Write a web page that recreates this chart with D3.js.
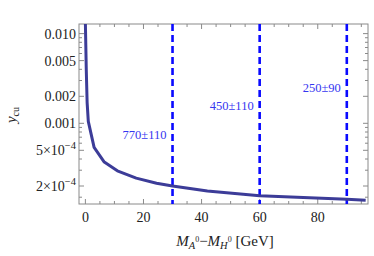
<!DOCTYPE html>
<html>
<head>
<meta charset="utf-8">
<script src="https://cdn.jsdelivr.net/npm/d3@7"></script>
<style>
  body { margin: 0; background: #fff; }
  text { font-family: "Liberation Serif", "DejaVu Serif", serif; }
</style>
</head>
<body>
<div id="chart"></div>
<script>
// curve: y_cu versus mass splitting
const massSplit = [0, 0.3, 0.6, 1, 3, 6.5, 11, 17.5, 24.5, 30, 42, 60, 90, 96.5];
const yCu = [0.013, 0.004, 0.0017, 0.00105, 0.00054, 0.00037, 0.000295, 0.000245, 0.000215, 0.0002, 0.000176, 0.000156, 0.000142, 0.000139];

// vertical dashed markers and their labels
const markerX = [30, 60, 90];
const markerLabels = ["770±110", "450±110", "250±90"];
const markerLabelY = [0.00075, 0.0016, 0.0025];

const xTicks = [0, 20, 40, 60, 80];
const yMajor = [0.01, 0.005, 0.002, 0.001, 0.0005, 0.0002];
const yMinor = [0.009, 0.008, 0.007, 0.006, 0.004, 0.003, 0.0009, 0.0008, 0.0007, 0.0006, 0.0004, 0.0003, 0.00015];

const W = 374, H = 256;
const margin = { top: 24, right: 6, bottom: 52, left: 79 };
const iw = W - margin.left - margin.right;
const ih = H - margin.top - margin.bottom;

const svg = d3.select("#chart").append("svg")
    .attr("width", W)
    .attr("height", H);

const g = svg.append("g")
    .attr("transform", `translate(${margin.left},${margin.top})`);

const x = d3.scaleLinear().domain([-2.2, 97.3]).range([0, iw]);
const y = d3.scaleLog().domain([0.000126, 0.0128]).range([ih, 0]);

g.append("clipPath").attr("id", "clip")
    .append("rect").attr("width", iw).attr("height", ih);

const frameColor = "#8a8a8a";

// ticks, pointing inward on all sides
const xMinor = d3.range(0, 96, 5).filter(d => d % 20 !== 0);
function hTicks(vals, len) {
    vals.forEach(v => {
        g.append("line").attr("x1", x(v)).attr("x2", x(v)).attr("y1", ih).attr("y2", ih - len)
            .attr("stroke", frameColor).attr("stroke-width", 1);
        g.append("line").attr("x1", x(v)).attr("x2", x(v)).attr("y1", 0).attr("y2", len)
            .attr("stroke", frameColor).attr("stroke-width", 1);
    });
}
function vTicks(vals, len) {
    vals.forEach(v => {
        g.append("line").attr("y1", y(v)).attr("y2", y(v)).attr("x1", 0).attr("x2", len)
            .attr("stroke", frameColor).attr("stroke-width", 1);
        g.append("line").attr("y1", y(v)).attr("y2", y(v)).attr("x1", iw).attr("x2", iw - len)
            .attr("stroke", frameColor).attr("stroke-width", 1);
    });
}
hTicks(xTicks, 5);
hTicks(xMinor, 3);
vTicks(yMajor, 5);
vTicks(yMinor, 3);

// frame
g.append("rect")
    .attr("width", iw).attr("height", ih)
    .attr("fill", "none")
    .attr("stroke", frameColor)
    .attr("stroke-width", 1);

// x tick labels
g.selectAll(".xl").data(xTicks).enter().append("text")
    .attr("x", d => x(d))
    .attr("y", ih + 18)
    .attr("text-anchor", "middle")
    .attr("font-size", 14)
    .attr("fill", "#222")
    .text(d => d);

// y tick labels
function yLabel(v, t) {
    const ypos = y(v) + 5;
    if (v >= 0.001) {
        t.attr("x", -3).attr("y", ypos).text(d3.format(".3f")(v));
    } else {
        const exp = Math.floor(Math.log10(v) + 1e-9);
        const mant = Math.round(v / Math.pow(10, exp));
        t.attr("x", -3).attr("y", ypos);
        t.append("tspan").text(mant + "×10");
        t.append("tspan").attr("dy", -6).attr("font-size", 10.5).text("−" + (-exp));
    }
}
yMajor.forEach(v => {
    const t = g.append("text")
        .attr("text-anchor", "end")
        .attr("font-size", 14)
        .attr("fill", "#222");
    yLabel(v, t);
});

// dashed markers
g.selectAll(".mk").data(markerX).enter().append("line")
    .attr("x1", d => x(d)).attr("x2", d => x(d))
    .attr("y1", 0).attr("y2", ih)
    .attr("stroke", "#0a0aff")
    .attr("stroke-width", 2.6)
    .attr("stroke-dasharray", "7,4");

g.selectAll(".ml").data(markerLabels).enter().append("text")
    .attr("x", (d, i) => x(markerX[i]) - 6)
    .attr("y", (d, i) => y(markerLabelY[i]) + 4.5)
    .attr("text-anchor", "end")
    .attr("font-size", 12.5)
    .attr("fill", "#3535f0")
    .text(d => d);

// curve
const pts = massSplit.map((m, i) => [m, yCu[i]]);
g.append("path")
    .datum(pts)
    .attr("clip-path", "url(#clip)")
    .attr("fill", "none")
    .attr("stroke", "#3c3c98")
    .attr("stroke-width", 3)
    .attr("stroke-linejoin", "round")
    .attr("d", d3.line().x(d => x(d[0])).y(d => y(d[1])));

// x axis title
const xt = svg.append("text")
    .attr("x", 225)
    .attr("y", 246)
    .attr("text-anchor", "middle")
    .attr("font-size", 15)
    .attr("fill", "#222");
xt.append("tspan").attr("font-style", "italic").text("M");
xt.append("tspan").attr("font-style", "italic").attr("font-size", 10.5).attr("dy", 3).text("A");
xt.append("tspan").attr("font-size", 8).attr("dy", -7).text("0");
xt.append("tspan").attr("dy", 4).text("−");
xt.append("tspan").attr("font-style", "italic").text("M");
xt.append("tspan").attr("font-style", "italic").attr("font-size", 10.5).attr("dy", 3).text("H");
xt.append("tspan").attr("font-size", 8).attr("dy", -7).text("0");
xt.append("tspan").attr("dy", 4).text(" [GeV]");

// y axis title
const yt = svg.append("text")
    .attr("transform", "translate(16,115) rotate(-90)")
    .attr("text-anchor", "middle")
    .attr("font-size", 15)
    .attr("fill", "#222");
yt.append("tspan").attr("font-style", "italic").text("y");
yt.append("tspan").attr("font-size", 10).attr("dy", 3).text("cu");
</script>
</body>
</html>
